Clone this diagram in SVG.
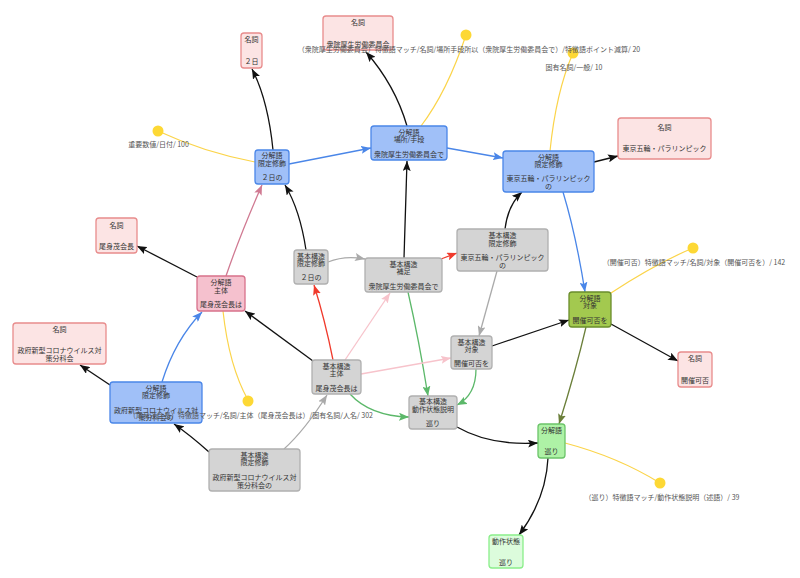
<svg xmlns="http://www.w3.org/2000/svg" width="800" height="578" viewBox="0 0 800 578">
<style>
text{font-family:"Noto Sans CJK JP","Noto Sans",sans-serif;font-size:7px;fill:#333;text-anchor:middle;dominant-baseline:central}
.lbl{fill:#555}
rect{stroke-width:1.3}
.noun{fill:#fce4e4;stroke:#e88c8c}
.blue{fill:#a0c0f8;stroke:#4a86e8}
.pink{fill:#f5c1ce;stroke:#d7718b}
.gray{fill:#d4d4d4;stroke:#b0b0b0}
.olive{fill:#a3c94f;stroke:#6a8d2c}
.lg{fill:#aef2a6;stroke:#6cc46a}
.dg{fill:#dcfcdc;stroke:#8aee8a}
.e{fill:none;stroke-width:1.3}
.k{stroke:#111}
.b{stroke:#4a86e8}
.g{stroke:#aaaaaa}
.r{stroke:#f03a2c}
.lp{stroke:#f7c3cb}
.gr{stroke:#5cb86a}
.ol{stroke:#6b7f3a}
.mv{stroke:#d07a92}
.y{stroke:#fbd44a;stroke-width:1.2}
.dot{fill:#fdd835}
</style>
<defs>
<marker id="ak" markerUnits="userSpaceOnUse" markerWidth="10" markerHeight="8" viewBox="0 0 10 8" refX="10" refY="4" orient="auto"><path d="M0,0L10,4L0,8L2,4z" fill="#111"/></marker>
<marker id="ab" markerUnits="userSpaceOnUse" markerWidth="10" markerHeight="8" viewBox="0 0 10 8" refX="10" refY="4" orient="auto"><path d="M0,0L10,4L0,8L2,4z" fill="#4a86e8"/></marker>
<marker id="ag" markerUnits="userSpaceOnUse" markerWidth="10" markerHeight="8" viewBox="0 0 10 8" refX="10" refY="4" orient="auto"><path d="M0,0L10,4L0,8L2,4z" fill="#aaaaaa"/></marker>
<marker id="ar" markerUnits="userSpaceOnUse" markerWidth="10" markerHeight="8" viewBox="0 0 10 8" refX="10" refY="4" orient="auto"><path d="M0,0L10,4L0,8L2,4z" fill="#f03a2c"/></marker>
<marker id="alp" markerUnits="userSpaceOnUse" markerWidth="10" markerHeight="8" viewBox="0 0 10 8" refX="10" refY="4" orient="auto"><path d="M0,0L10,4L0,8L2,4z" fill="#f7c3cb"/></marker>
<marker id="agr" markerUnits="userSpaceOnUse" markerWidth="10" markerHeight="8" viewBox="0 0 10 8" refX="10" refY="4" orient="auto"><path d="M0,0L10,4L0,8L2,4z" fill="#5cb86a"/></marker>
<marker id="aol" markerUnits="userSpaceOnUse" markerWidth="10" markerHeight="8" viewBox="0 0 10 8" refX="10" refY="4" orient="auto"><path d="M0,0L10,4L0,8L2,4z" fill="#6b7f3a"/></marker>
<marker id="amv" markerUnits="userSpaceOnUse" markerWidth="10" markerHeight="8" viewBox="0 0 10 8" refX="10" refY="4" orient="auto"><path d="M0,0L10,4L0,8L2,4z" fill="#d07a92"/></marker>
</defs>
<rect x="0" y="0" width="800" height="578" fill="#fff" stroke="none"/>
<g id="connectors">
<path class="e k" d="M273,150 Q268,100 252,69" marker-end="url(#ak)"/>
<path class="e k" d="M407,126 Q395,85 366,52" marker-end="url(#ak)"/>
<path class="e y" d="M421,126 Q447,92 466,35"/>
<path class="e y" d="M550,151 Q556,92 573,53"/>
<path class="e b" d="M289,164 L371,148" marker-end="url(#ab)"/>
<path class="e b" d="M447,148 L503,158" marker-end="url(#ab)"/>
<path class="e k" d="M594,162 L618,156" marker-end="url(#ak)"/>
<path class="e b" d="M563,192 Q576,235 585,292" marker-end="url(#ab)"/>
<path class="e y" d="M255,162 Q203,152 158,131"/>
<path class="e k" d="M306,250 Q300,210 285,185" marker-end="url(#ak)"/>
<path class="e g" d="M328,262 Q345,255 365,259" marker-end="url(#ag)"/>
<path class="e k" d="M404,258 L407,161" marker-end="url(#ak)"/>
<path class="e r" d="M441,259 L457,253" marker-end="url(#ar)"/>
<path class="e k" d="M505,229 Q508,205 522,192" marker-end="url(#ak)"/>
<path class="e g" d="M497,271 L479,336" marker-end="url(#ag)"/>
<path class="e gr" d="M408,292 Q419,340 428,396" marker-end="url(#agr)"/>
<path class="e lp" d="M345,360 L390,293" marker-end="url(#alp)"/>
<path class="e r" d="M333,360 Q325,320 314,285" marker-end="url(#ar)"/>
<path class="e lp" d="M361,374 L451,358" marker-end="url(#alp)"/>
<path class="e gr" d="M350,394 Q370,416 409,417" marker-end="url(#agr)"/>
<path class="e gr" d="M476,369 Q476,395 457,405" marker-end="url(#agr)"/>
<path class="e k" d="M492,346 L569,320" marker-end="url(#ak)"/>
<path class="e k" d="M313,361 L245,311" marker-end="url(#ak)"/>
<path class="e mv" d="M226,276 Q240,235 262,185" marker-end="url(#amv)"/>
<path class="e k" d="M197,277 L137,246" marker-end="url(#ak)"/>
<path class="e y" d="M223,311 Q229,366 248,400"/>
<path class="e b" d="M162,382 Q175,340 202,312" marker-end="url(#ab)"/>
<path class="e k" d="M110,385 L80,365" marker-end="url(#ak)"/>
<path class="e k" d="M209,452 Q190,435 174,424" marker-end="url(#ak)"/>
<path class="e g" d="M284,449 Q305,430 327,395" marker-end="url(#ag)"/>
<path class="e k" d="M611,324 L678,361" marker-end="url(#ak)"/>
<path class="e y" d="M611,293 Q655,264 693,248"/>
<path class="e ol" d="M586,327 Q576,370 559,424" marker-end="url(#aol)"/>
<path class="e k" d="M457,427 Q490,446 538,443" marker-end="url(#ak)"/>
<path class="e k" d="M548,458 Q546,499 519,535" marker-end="url(#ak)"/>
<path class="e y" d="M565,443 Q618,457 660,483"/>
</g>
<g id="dots">
<circle class="dot" cx="466" cy="35" r="5.5"/>
<circle class="dot" cx="573" cy="53" r="5.5"/>
<circle class="dot" cx="158" cy="131" r="5.5"/>
<circle class="dot" cx="248" cy="401" r="5.5"/>
<circle class="dot" cx="693" cy="248" r="5.5"/>
<circle class="dot" cx="660" cy="483" r="5.5"/>
</g>
<g id="n_2day"><rect class="noun" x="241" y="33" width="21" height="35" rx="3"/><text x="251.5" y="38.5">名詞</text><text x="251.5" y="61">２日</text></g>
<g id="n_shuin"><rect class="noun" x="323" y="16" width="70" height="34" rx="3"/><text x="358" y="21.5">名詞</text><text x="358" y="44">衆院厚生労働委員会</text></g>
<g id="n_tokyo"><rect class="noun" x="618" y="118" width="93" height="41" rx="3"/><text x="664.5" y="127">名詞</text><text x="664.5" y="148">東京五輪・パラリンピック</text></g>
<g id="n_oshin"><rect class="noun" x="96" y="218" width="41" height="35" rx="3"/><text x="116.5" y="225">名詞</text><text x="116.5" y="246">尾身茂会長</text></g>
<g id="n_seifu"><rect class="noun" x="13" y="323" width="93" height="41" rx="3"/><text x="59.5" y="328.5">名詞</text><text x="59.5" y="350">政府新型コロナウイルス対</text><text x="59.5" y="357.5">策分科会</text></g>
<g id="n_kaisai"><rect class="noun" x="678" y="352" width="34" height="35" rx="3"/><text x="695" y="358">名詞</text><text x="695" y="380">開催可否</text></g>
<g id="b_2day"><rect class="blue" x="255" y="150" width="34" height="34" rx="3"/><text x="272" y="155">分解語</text><text x="272" y="162.5">限定修飾</text><text x="272" y="177">２日の</text></g>
<g id="b_shuin"><rect class="blue" x="371" y="126" width="76" height="34" rx="3"/><text x="409" y="131.5">分解語</text><text x="409" y="139">場所/手段</text><text x="409" y="154">衆院厚生労働委員会で</text></g>
<g id="b_tokyo"><rect class="blue" x="503" y="151" width="91" height="41" rx="3"/><text x="548.5" y="156.5">分解語</text><text x="548.5" y="164">限定修飾</text><text x="548.5" y="178">東京五輪・パラリンピック</text><text x="548.5" y="185.5">の</text></g>
<g id="k_2day"><rect class="gray" x="294" y="250" width="34" height="34" rx="3"/><text x="311" y="255.5">基本構造</text><text x="311" y="262.5">限定修飾</text><text x="311" y="277">２日の</text></g>
<g id="k_shuin"><rect class="gray" x="365" y="258" width="77" height="34" rx="3"/><text x="403.5" y="263.5">基本構造</text><text x="403.5" y="271">補足</text><text x="403.5" y="285.5">衆院厚生労働委員会で</text></g>
<g id="k_tokyo"><rect class="gray" x="457" y="229" width="91" height="42" rx="3"/><text x="502.5" y="235">基本構造</text><text x="502.5" y="242.5">限定修飾</text><text x="502.5" y="257">東京五輪・パラリンピック</text><text x="502.5" y="264.5">の</text></g>
<g id="b_oshin"><rect class="pink" x="197" y="276" width="48" height="35" rx="3"/><text x="221" y="282">分解語</text><text x="221" y="289.5">主体</text><text x="221" y="304">尾身茂会長は</text></g>
<g id="b_seifu"><rect class="blue" x="110" y="382" width="92" height="41" rx="3"/><text x="156" y="387.5">分解語</text><text x="156" y="395">限定修飾</text><text x="156" y="409.5">政府新型コロナウイルス対</text><text x="156" y="417">策分科会の</text></g>
<g id="k_oshin"><rect class="gray" x="312" y="360" width="49" height="34" rx="3"/><text x="336.5" y="365.5">基本構造</text><text x="336.5" y="373">主体</text><text x="336.5" y="387.5">尾身茂会長は</text></g>
<g id="k_kaisai"><rect class="gray" x="451" y="336" width="41" height="33" rx="3"/><text x="471.5" y="341.5">基本構造</text><text x="471.5" y="349">対象</text><text x="471.5" y="363">開催可否を</text></g>
<g id="k_meguri"><rect class="gray" x="409" y="396" width="48" height="33" rx="3"/><text x="433" y="401">基本構造</text><text x="433" y="408.5">動作状態説明</text><text x="433" y="422.5">巡り</text></g>
<g id="k_seifu"><rect class="gray" x="209" y="449" width="91" height="42" rx="3"/><text x="254.5" y="454.5">基本構造</text><text x="254.5" y="462">限定修飾</text><text x="254.5" y="477">政府新型コロナウイルス対</text><text x="254.5" y="484.5">策分科会の</text></g>
<g id="b_kaisai"><rect class="olive" x="569" y="292" width="42" height="35" rx="3"/><text x="590" y="297.5">分解語</text><text x="590" y="305">対象</text><text x="590" y="320">開催可否を</text></g>
<g id="b_meguri"><rect class="lg" x="538" y="424" width="27" height="34" rx="3"/><text x="551.5" y="429.5">分解語</text><text x="551.5" y="451">巡り</text></g>
<g id="d_meguri"><rect class="dg" x="489" y="535" width="34" height="33" rx="3"/><text x="506" y="540.5">動作状態</text><text x="506" y="562">巡り</text></g>
<g id="labels">
<text class="lbl" x="469" y="49">（衆院厚生労働委員会）特徴語マッチ/名詞/場所手段所以（衆院厚生労働委員会で）/特徴語ポイント減算/ 20</text>
<text class="lbl" x="574" y="67">固有名詞/一般/ 10</text>
<text class="lbl" x="158.5" y="144">重要数値/日付/ 100</text>
<text class="lbl" x="251" y="415">（尾身茂会長）特徴語マッチ/名詞/主体（尾身茂会長は）/固有名詞/人名/ 302</text>
<text class="lbl" x="694" y="262">（開催可否）特徴語マッチ/名詞/対象（開催可否を）/ 142</text>
<text class="lbl" x="662" y="497">（巡り）特徴語マッチ/動作状態説明（述語）/ 39</text>
</g>
</svg>
